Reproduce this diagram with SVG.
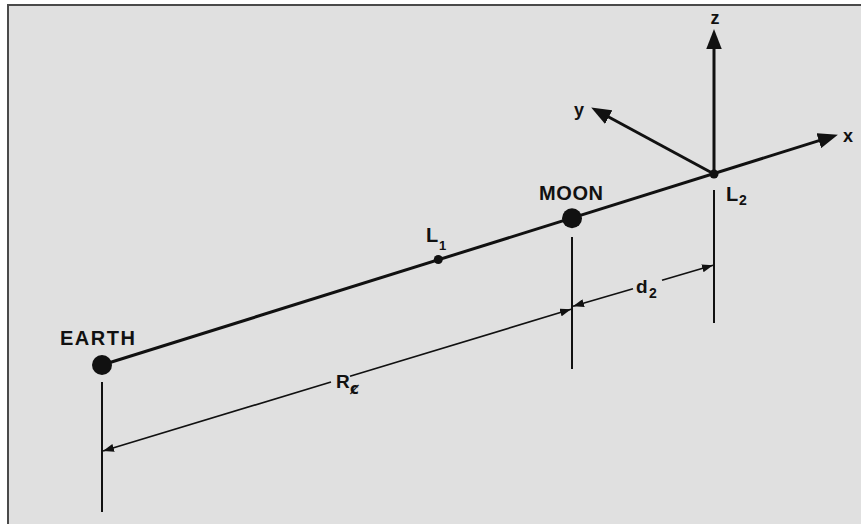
<svg xmlns="http://www.w3.org/2000/svg" width="861" height="524" viewBox="0 0 861 524">
  <defs>
    <marker id="axisArrow" markerUnits="userSpaceOnUse" markerWidth="20" markerHeight="16" viewBox="0 0 18 14" refX="10" refY="7" orient="auto">
      <path d="M0,0 L18,7 L0,14 z" fill="#111"/>
    </marker>
    <marker id="dimArrow" markerUnits="userSpaceOnUse" markerWidth="11" markerHeight="8" viewBox="0 0 11 8" refX="11" refY="4" orient="auto-start-reverse">
      <path d="M0,0 L11,4 L0,8 z" fill="#111"/>
    </marker>
    <style>
      .lbl { font-family: "Liberation Sans", Arial, sans-serif; font-weight: bold; fill: #111; }
      .main { stroke: #111; stroke-width: 3; fill: none; }
      .axis { stroke: #111; stroke-width: 3; fill: none; }
      .ext { stroke: #111; stroke-width: 2; fill: none; }
      .dim { stroke: #111; stroke-width: 1.7; fill: none; }
      .body { fill: #111; }
    </style>
  </defs>

  <rect x="0" y="0" width="861" height="524" fill="#ffffff"/>
  <rect x="8" y="5" width="860" height="530" fill="#e0e0e0" stroke="#4a4a4a" stroke-width="2"/>

  <g id="connectors">
    <line class="main" x1="102" y1="365" x2="829.4" y2="137.4" marker-end="url(#axisArrow)"/>
    <line class="ext" x1="102" y1="382" x2="102" y2="512"/>
    <line class="ext" x1="572" y1="237" x2="572" y2="369"/>
    <line class="ext" x1="714" y1="190" x2="714" y2="323"/>
    <line class="dim" x1="331" y1="382" x2="103" y2="451" marker-end="url(#dimArrow)"/>
    <line class="dim" x1="350" y1="376.2" x2="571" y2="309.3" marker-end="url(#dimArrow)"/>
    <line class="dim" x1="633" y1="288.7" x2="573" y2="306.2" marker-end="url(#dimArrow)"/>
    <line class="dim" x1="662" y1="280.2" x2="713" y2="265.3" marker-end="url(#dimArrow)"/>
  </g>

  <g id="axes">
    <line class="axis" x1="714" y1="174" x2="714" y2="38" marker-end="url(#axisArrow)"/>
    <line class="axis" x1="714" y1="174" x2="599" y2="111.8" marker-end="url(#axisArrow)"/>
    <text class="lbl" x="715" y="24" font-size="18" text-anchor="middle">z</text>
    <text class="lbl" x="579" y="116" font-size="18" text-anchor="middle">y</text>
    <text class="lbl" x="848" y="142" font-size="18" text-anchor="middle">x</text>
  </g>

  <g id="node-earth">
    <circle class="body" cx="102" cy="365" r="10"/>
    <text class="lbl" x="60" y="345" font-size="20" textLength="75" lengthAdjust="spacing">EARTH</text>
  </g>

  <g id="node-moon">
    <circle class="body" cx="572" cy="218.3" r="10"/>
    <text class="lbl" x="539" y="200" font-size="20" textLength="64" lengthAdjust="spacing">MOON</text>
  </g>

  <g id="node-L1">
    <circle class="body" cx="438.3" cy="259.5" r="4.5"/>
    <text class="lbl" x="426" y="242" font-size="20">L</text>
    <text class="lbl" x="439" y="250" font-size="13">1</text>
  </g>

  <g id="node-L2">
    <circle class="body" cx="714" cy="174" r="4.5"/>
    <text class="lbl" x="726" y="201" font-size="20">L</text>
    <text class="lbl" x="739" y="205" font-size="14">2</text>
  </g>

  <g id="label-d2">
    <text class="lbl" x="636" y="293" font-size="19">d</text>
    <text class="lbl" x="649" y="298" font-size="14">2</text>
  </g>

  <g id="label-R">
    <text class="lbl" x="336" y="388" font-size="19">R</text>
    <text x="350" y="394" font-size="15" font-weight="bold" fill="#111" font-family="'DejaVu Sans', sans-serif">ȼ</text>
  </g>
</svg>
